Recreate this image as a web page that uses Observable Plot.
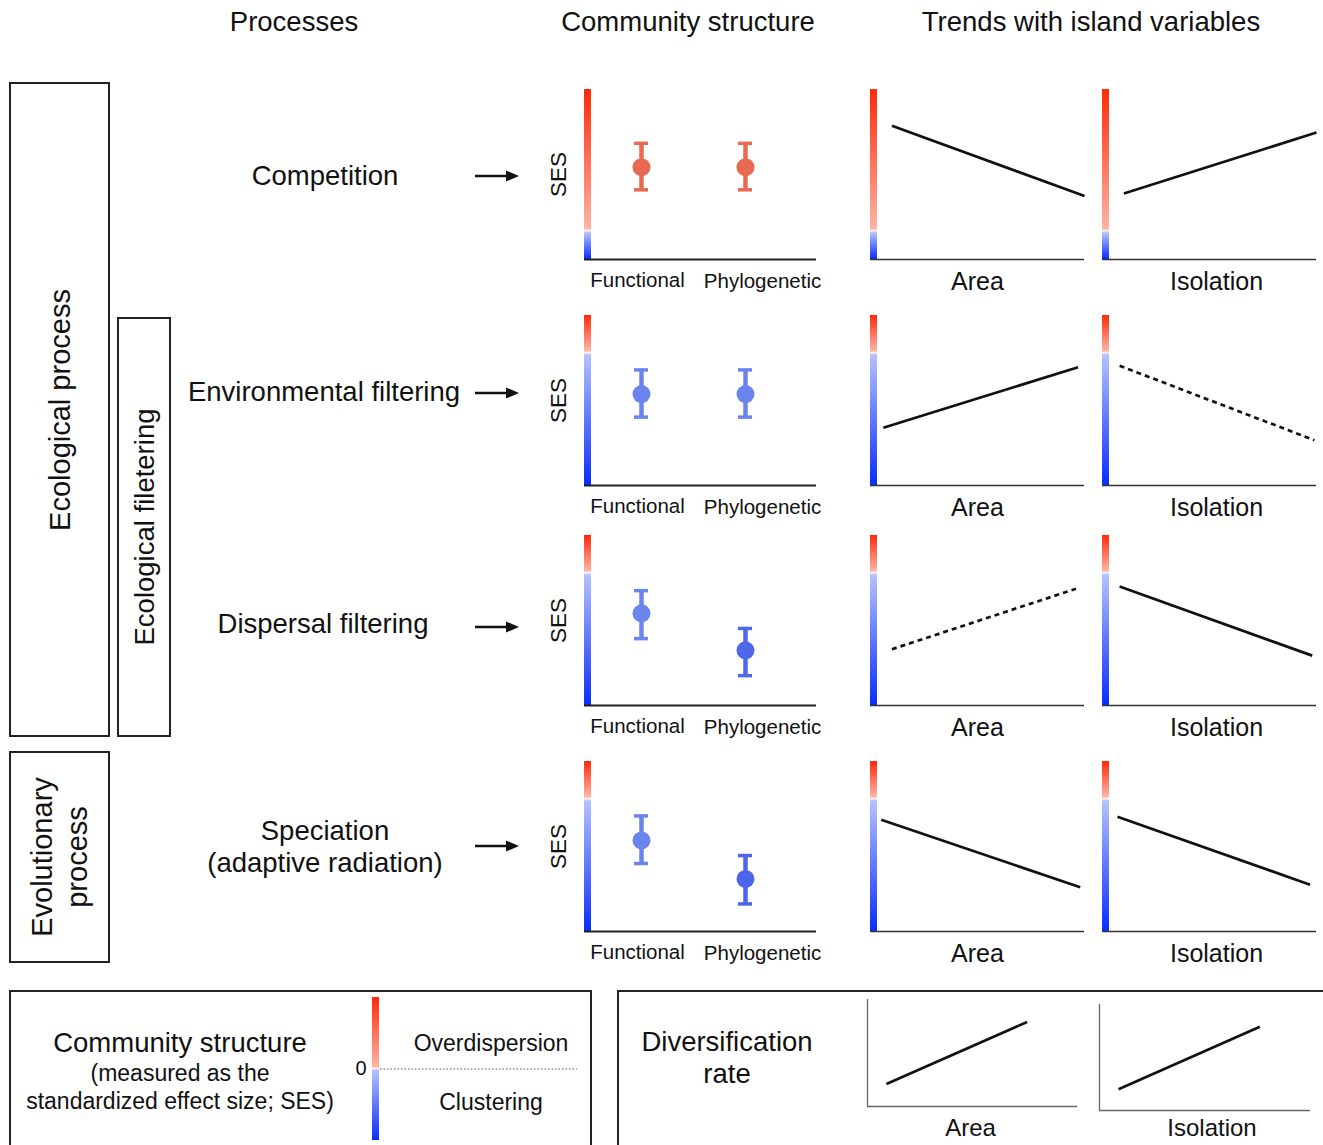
<!DOCTYPE html>
<html>
<head>
<meta charset="utf-8">
<script src="https://cdn.jsdelivr.net/npm/d3@7"></script>
<script src="https://cdn.jsdelivr.net/npm/@observablehq/plot@0.6"></script>
<style>
  body { margin: 0; background: #fff; }
  #root { position: relative; width: 1323px; height: 1145px; overflow: hidden; background: #fff;
          font-family: "Liberation Sans", Arial, Helvetica, sans-serif; color: #111; }
  .t { position: absolute; transform: translate(-50%, -50%); white-space: pre; text-align: center; line-height: 1.17; }
  .box { position: absolute; border: 2px solid #222; box-sizing: border-box; }
  .rot { position: absolute; left: 50%; top: 50%; transform: translate(-50%, -50%) rotate(-90deg);
         white-space: pre; text-align: center; line-height: 1.2; }
  .holder { position: absolute; }
  .holder svg { display: block; overflow: visible; }
</style>
</head>
<body>
<div id="root"></div>
<script>
// ---------------- data ----------------
const headers = ["Processes", "Community structure", "Trends with island variables"];
const processes = ["Competition", "Environmental filtering", "Dispersal filtering", "Speciation\n(adaptive radiation)"];
const groups = ["Ecological process", "Ecological filetering", "Evolutionary\nprocess"];

const metrics = ["Functional", "Phylogenetic"];
const sesDomains = [[-1, 5], [-3.5, 1], [-3.5, 1], [-3.5, 1]];
const sesMean = [[2.26, 2.26], [-1.08, -1.08], [-1.06, -2.04], [-1.09, -2.11]];
const sesLow  = [[1.46, 1.46], [-1.69, -1.69], [-1.73, -2.71], [-1.70, -2.77]];
const sesHigh = [[3.10, 3.10], [-0.44, -0.44], [-0.46, -1.46], [-0.44, -1.49]];

const islandVariables = ["Area", "Isolation"];
const trendX0 = [[0.10, 0.10], [0.06, 0.08], [0.10, 0.08], [0.05, 0.07]];
const trendX1 = [[1.00, 1.00], [0.97, 0.99], [0.96, 0.98], [0.98, 0.97]];
const trendY0 = [[3.72, 1.33], [-1.97, -0.33], [-2.01, -0.35], [-0.54, -0.46]];
const trendY1 = [[1.24, 3.48], [-0.37, -2.30], [-0.41, -2.18], [-2.33, -2.26]];
const trendSignificant = [[true, true], [true, false], [false, true], [true, true]];

const legendTitle = ["Community structure", "(measured as the", "standardized effect size; SES)"];
const legendDomain = [-1, 1];
const legendZero = [0];
const legendLabels = ["Overdispersion", "Clustering"];

const divTitle = "Diversification\nrate";
const divX0 = [0.09, 0.09];
const divX1 = [0.76, 0.76];
const divY0 = [0.21, 0.20];
const divY1 = [0.79, 0.79];

// ---------------- helpers ----------------
const root = document.getElementById("root");
const FONT = '"Liberation Sans", Arial, Helvetica, sans-serif';

function place(node, left, top, w, h) {
  const d = document.createElement("div");
  d.className = "holder";
  d.style.left = left + "px"; d.style.top = top + "px";
  d.style.width = w + "px"; d.style.height = h + "px";
  d.appendChild(node);
  root.appendChild(d);
}
function text(str, cx, cy, size, lh) {
  const d = document.createElement("div");
  d.className = "t";
  d.textContent = str;
  d.style.left = cx + "px"; d.style.top = cy + "px"; d.style.fontSize = size + "px";
  if (lh) d.style.lineHeight = lh;
  root.appendChild(d);
}
function box(left, top, w, h, label, size) {
  const d = document.createElement("div");
  d.className = "box";
  d.style.left = left + "px"; d.style.top = top + "px";
  d.style.width = w + "px"; d.style.height = h + "px";
  if (label) {
    const s = document.createElement("div");
    s.className = "rot";
    s.textContent = label;
    s.style.fontSize = size + "px";
    d.appendChild(s);
  }
  root.appendChild(d);
}
function arrow(x0, x1, y) {
  const svg = d3.create("svg").attr("width", x1 - x0 + 4).attr("height", 16)
    .style("position", "absolute").style("left", x0 + "px").style("top", (y - 8) + "px");
  svg.append("line").attr("x1", 0).attr("x2", x1 - x0 - 10).attr("y1", 8).attr("y2", 8)
    .attr("stroke", "#111").attr("stroke-width", 2.4);
  svg.append("path").attr("d", `M${x1 - x0 - 13},2.5 L${x1 - x0},8 L${x1 - x0 - 13},13.5 Z`).attr("fill", "#111");
  root.appendChild(svg.node());
}

let gradCount = 0;
// gradient colour bar along the SES axis; stops are placed at the y-scale position of SES = 0
function sesBar(barWidth = 7) {
  const id = "sesgrad" + (gradCount++);
  return (index, scales, values, dims) => {
    const top = dims.marginTop, bottom = dims.height - dims.marginBottom;
    const f = Math.max(0, Math.min(1, (scales.y(0) - top) / (bottom - top)));
    const g = d3.create("svg:g");
    const lg = g.append("defs").append("linearGradient").attr("id", id)
      .attr("x1", 0).attr("x2", 0).attr("y1", 0).attr("y2", 1);
    const stops = [
      [0, "#ff2a08"], [Math.max(0, f - 0.012), "#ffb4a4"], [f, "#fbf4f4"],
      [Math.min(1, f + 0.012), "#b4c2ff"], [1, "#0a2cff"]
    ];
    for (const [o, c] of stops) lg.append("stop").attr("offset", o).attr("stop-color", c);
    g.append("rect").attr("x", dims.marginLeft).attr("y", top)
      .attr("width", barWidth).attr("height", bottom - top).attr("fill", `url(#${id})`);
    return g.node();
  };
}

const sesColor = d3.scaleLinear()
  .domain([-2.2, -1.05, 0, 2.3])
  .range(["#4a62ea", "#6b85ee", "#f0f0f0", "#e8694e"])
  .clamp(true);

// ---------------- headers & left column ----------------
text(headers[0], 294, 22, 27.5);
text(headers[1], 688, 22, 27.5);
text(headers[2], 1091, 22, 27.5);

box(9, 82, 101, 655, groups[0], 29);
box(117, 317, 54, 420, groups[1], 27.5);
box(9, 751, 101, 212, groups[2], 29);

const procY = [176, 392, 624, 847];
const procX = [325, 324, 323, 325];
processes.forEach((p, i) => text(p, procX[i], procY[i], 27.5, i === 3 ? "32px" : null));
const arrowY = [176, 393, 627, 846];
arrowY.forEach(y => arrow(475, 519, y));

// ---------------- panels ----------------
const rowTop = [89, 315, 535, 761];
const BAR_H = 170;

function sesPanel(r) {
  const data = metrics.map((m, j) => ({metric: m, mean: sesMean[r][j], lo: sesLow[r][j], hi: sesHigh[r][j]}));
  const mL = 49, mR = 14, mT = 4, mB = 44, W = 232;
  const plot = Plot.plot({
    width: mL + W + mR, height: mT + BAR_H + mB,
    marginLeft: mL, marginRight: mR, marginTop: mT, marginBottom: mB,
    x: {type: "band", domain: metrics, padding: 0, insetLeft: 5, insetRight: 19},
    y: {domain: sesDomains[r], axis: null},
    style: {fontFamily: FONT, color: "#111", background: "transparent", overflow: "visible"},
    marks: [
      sesBar(),
      Plot.ruleY([sesDomains[r][0]], {stroke: "#222", strokeWidth: 1.8}),
      Plot.ruleX(data, {x: "metric", y1: "lo", y2: "hi", stroke: d => sesColor(d.mean), strokeWidth: 4.5}),
      Plot.tickY(data, {x: "metric", y: "lo", stroke: d => sesColor(d.mean), strokeWidth: 3.5, insetLeft: 45, insetRight: 45}),
      Plot.tickY(data, {x: "metric", y: "hi", stroke: d => sesColor(d.mean), strokeWidth: 3.5, insetLeft: 45, insetRight: 45}),
      Plot.dot(data, {x: "metric", y: "mean", r: 9, fill: d => sesColor(d.mean)}),
      Plot.axisX({ticks: [metrics[0]], tickSize: 0, tickPadding: 13, fontSize: 20.5, dx: -4, label: null}),
      Plot.axisX({ticks: [metrics[1]], tickSize: 0, tickPadding: 14, fontSize: 20.5, dx: 17, label: null}),
      Plot.text(["SES"], {frameAnchor: "left", rotate: -90, dx: -26, fontSize: 22.5, textAnchor: "middle", lineAnchor: "middle"})
    ]
  });
  place(plot, 584 - mL, rowTop[r] - mT, mL + W + mR, mT + BAR_H + mB);
}

function trendPanel(r, k, frameLeft, labelDx) {
  const mL = 2, mR = 10, mT = 4, mB = 42, W = 214;
  const d = [{x1: trendX0[r][k], x2: trendX1[r][k], y1: trendY0[r][k], y2: trendY1[r][k], sig: trendSignificant[r][k]}];
  const plot = Plot.plot({
    width: mL + W + mR, height: mT + BAR_H + mB,
    marginLeft: mL, marginRight: mR, marginTop: mT, marginBottom: mB,
    x: {domain: [0, 1], axis: null},
    y: {domain: sesDomains[r], axis: null},
    style: {fontFamily: FONT, color: "#111", background: "transparent", overflow: "visible"},
    marks: [
      sesBar(),
      Plot.ruleY([sesDomains[r][0]], {stroke: "#333", strokeWidth: 1.7}),
      Plot.link(d.filter(e => e.sig), {x1: "x1", y1: "y1", x2: "x2", y2: "y2", stroke: "#111", strokeWidth: 2.7}),
      Plot.link(d.filter(e => !e.sig), {x1: "x1", y1: "y1", x2: "x2", y2: "y2", stroke: "#111", strokeWidth: 2.7, strokeDasharray: "5,4"}),
      Plot.text([islandVariables[k]], {frameAnchor: "bottom", dx: labelDx, dy: 22, fontSize: 25, lineAnchor: "middle"})
    ]
  });
  place(plot, frameLeft - mL, rowTop[r] - mT, mL + W + mR, mT + BAR_H + mB);
}

for (let r = 0; r < 4; r++) {
  sesPanel(r);
  trendPanel(r, 0, 870, 0);
  trendPanel(r, 1, 1102, 7);
}

// ---------------- legends ----------------
box(9, 990, 583, 175);
box(617, 990, 720, 175);

text(legendTitle[0], 180, 1043, 27.5);
text(legendTitle[1], 180, 1073, 23);
text(legendTitle[2], 180, 1101, 23);

(function legendScale() {
  const mL = 32, mR = 4, mT = 4, mB = 4, W = 205, H = 143;
  const plot = Plot.plot({
    width: mL + W + mR, height: mT + H + mB,
    marginLeft: mL, marginRight: mR, marginTop: mT, marginBottom: mB,
    x: {domain: [0, 1], axis: null},
    y: {domain: legendDomain},
    style: {fontFamily: FONT, color: "#111", background: "transparent", overflow: "visible"},
    marks: [
      sesBar(),
      Plot.ruleY([0], {insetLeft: 8, stroke: "#555", strokeWidth: 1, strokeDasharray: "1.5,2"}),
      Plot.axisY({ticks: legendZero, tickFormat: d => String(d), tickSize: 0, tickPadding: 6, fontSize: 20, label: null}),
      Plot.text([legendLabels[0]], {frameAnchor: "top", dx: 16, dy: 46, fontSize: 23, lineAnchor: "middle"}),
      Plot.text([legendLabels[1]], {frameAnchor: "bottom", dx: 16, dy: -38, fontSize: 23, lineAnchor: "middle"})
    ]
  });
  place(plot, 372 - mL, 997 - mT, mL + W + mR, mT + H + mB);
})();

text(divTitle, 727, 1058, 27.5, "32px");

function divPanel(k, left, top, W, H, ldx, ldy) {
  const mL = 1, mR = 4, mT = 2, mB = 40;
  const d = [{x1: divX0[k], x2: divX1[k], y1: divY0[k], y2: divY1[k]}];
  const plot = Plot.plot({
    width: mL + W + mR, height: mT + H + mB,
    marginLeft: mL, marginRight: mR, marginTop: mT, marginBottom: mB,
    x: {domain: [0, 1], axis: null},
    y: {domain: [0, 1], axis: null},
    style: {fontFamily: FONT, color: "#111", background: "transparent", overflow: "visible"},
    marks: [
      Plot.ruleX([0], {stroke: "#666", strokeWidth: 1.3}),
      Plot.ruleY([0], {stroke: "#666", strokeWidth: 1.3}),
      Plot.link(d, {x1: "x1", y1: "y1", x2: "x2", y2: "y2", stroke: "#111", strokeWidth: 2.6}),
      Plot.text([islandVariables[k]], {frameAnchor: "bottom", dx: ldx, dy: ldy, fontSize: 24, lineAnchor: "middle"})
    ]
  });
  place(plot, left - mL, top - mT, mL + W + mR, mT + H + mB);
}
divPanel(0, 867, 999, 210, 107, -2, 22);
divPanel(1, 1099, 1004, 211, 106, 7, 18);
</script>
</body>
</html>
